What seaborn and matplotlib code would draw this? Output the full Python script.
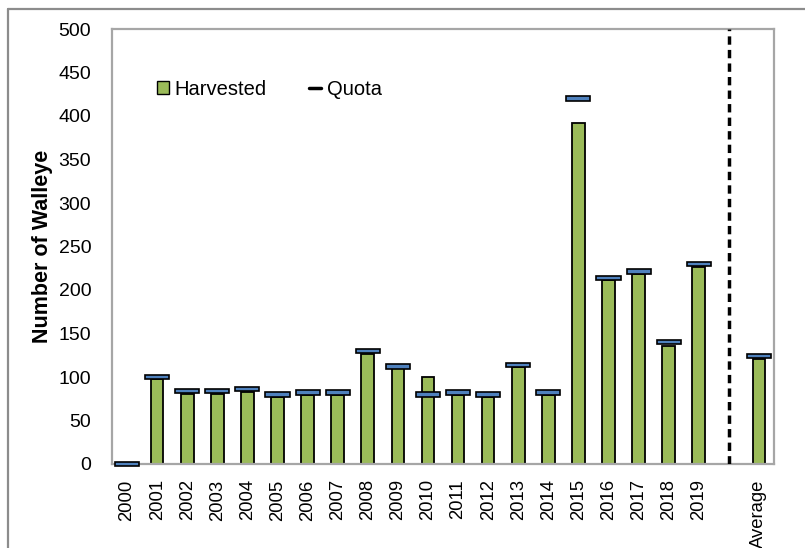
import numpy as np
import pandas as pd
import matplotlib
matplotlib.use("Agg")
import matplotlib.pyplot as plt
from matplotlib.patches import Patch
from matplotlib.lines import Line2D
import seaborn as sns

categories = [str(y) for y in range(2000, 2020)] + ["", "Average"]
harvested = [0, 98, 81, 81, 83, 77, 79, 79, 127, 110, 100, 79, 77, 111, 79,
             392, 211, 218, 136, 227, np.nan, 121]
quota = [0, 100, 84, 84, 86, 80, 82, 82, 130, 112, 80, 82, 80, 114, 82,
         420, 214, 221, 140, 230, np.nan, 124]
yticks = [0, 50, 100, 150, 200, 250, 300, 350, 400, 450, 500]

sns.set_theme(style="white")
plt.rcParams['font.family'] = ['Liberation Sans', 'DejaVu Sans']

fig = plt.figure(figsize=(8.05, 5.48), dpi=100)
ax = fig.add_axes([112/805, 1-464/548, 662/805, 435/548])

df = pd.DataFrame({"cat": categories, "Harvested": harvested})
sns.barplot(data=df, x="cat", y="Harvested", order=categories, ax=ax,
            color="#9BBB59", edgecolor="black", linewidth=1.3, width=0.42,
            saturation=1)

# quota markers
xs = np.arange(len(categories))
q = np.array(quota, dtype=float)
mask = ~np.isnan(q)
mh = 5.2
qb = ax.bar(xs[mask], height=mh, bottom=q[mask]-mh/2, width=0.8, color="#4F81BD",
            edgecolor="black", linewidth=1.2, zorder=3)
for p in qb:
    p.set_clip_on(False)

ax.axvline(categories.index(""), color="black", lw=2.5, linestyle=(0, (2.4, 1.5)), zorder=4)

ax.set_ylim(0, 500)
ax.set_xlim(-0.5, len(categories)-0.5)
ax.set_yticks(yticks)
ax.set_yticklabels([str(t) for t in yticks], fontsize=14, color="black")
ax.set_xticks(xs)
ax.set_xticklabels(categories, rotation=90, fontsize=13.3, color="black")
ax.tick_params(axis='both', length=0)
ax.tick_params(axis='y', pad=15)
ax.tick_params(axis='x', pad=11)
ax.set_xlabel("")
ax.set_ylabel("Number of Walleye", fontsize=15.5, fontweight="bold", labelpad=4,
              color="black")

for s in ax.spines.values():
    s.set_color("#A6A6A6")
    s.set_linewidth(1.6)

handles = [Patch(facecolor="#9BBB59", edgecolor="black", linewidth=1.0),
           Line2D([0], [0], color="black", lw=2.5)]
leg = ax.legend(handles, ["Harvested", "Quota"], ncol=2, frameon=False,
                loc="upper left", bbox_to_anchor=(0.04, 0.925), fontsize=14.5,
                handlelength=0.6, handleheight=0.6, handletextpad=0.3,
                columnspacing=2.1)
for t in leg.get_texts():
    t.set_color("black")

# outer chart border (top and left visible)
fig.add_artist(Line2D([8/805, 1.0], [1-8.5/548, 1-8.5/548], color="#8C8C8C", lw=1.6,
                      transform=fig.transFigure))
fig.add_artist(Line2D([8/805, 8/805], [0, 1-8.5/548], color="#8C8C8C", lw=1.6,
                      transform=fig.transFigure))

fig.savefig("out.png", dpi=100)
